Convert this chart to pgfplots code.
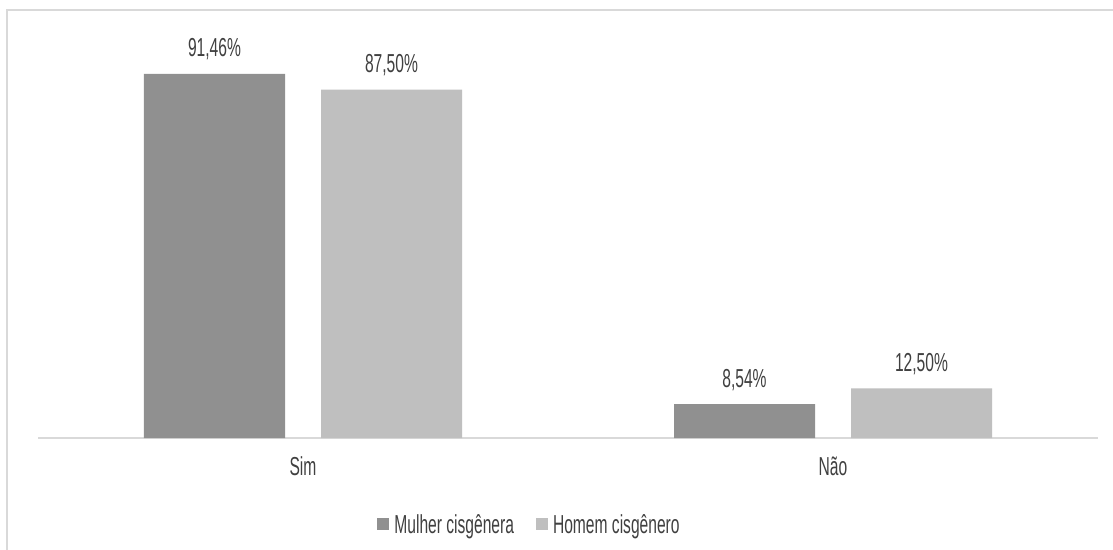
\documentclass[border=0pt]{standalone}
\usepackage{fontspec}
\setmainfont{Liberation Sans}[FakeStretch=0.6]
\usepackage{pgfplots}
\pgfplotsset{compat=1.18}
\definecolor{dark}{HTML}{909090}
\definecolor{light}{HTML}{BFBFBF}
\definecolor{txt}{HTML}{404040}
\definecolor{frame}{HTML}{D9D9D9}
\begin{document}
\fontsize{26bp}{30bp}\selectfont
\begin{tikzpicture}
\path[use as bounding box, fill=white] (0,0) rectangle (1113bp,-550bp);
\draw[frame, line width=1.5bp] (7bp,-550bp) -- (7bp,-10bp) -- (1113bp,-10bp);
\begin{axis}[
  at={(38bp,-438bp)}, anchor=south west,
  scale only axis, width=1060bp, height=408bp,
  xmin=-0.5, xmax=1.5, ymin=0, ymax=102.5,
  axis y line=none, axis x line*=bottom,
  x axis line style={frame, line width=1.5bp, -},
  xtick={0,1}, xticklabels={Sim,Não},
  major tick length=0,
  xticklabel style={anchor=base, yshift=-37bp, text=txt},
  ybar, bar width=141bp,
  point meta=explicit symbolic,
  nodes near coords,
  every node near coord/.append style={anchor=base, yshift=17bp, text=txt},
  legend columns=2,
  legend style={draw=none, fill=none, at={(0.4637,-0.216)}, anchor=center, text=txt,
    /tikz/every odd column/.append style={column sep=3bp},
    /tikz/every even column/.append style={column sep=20bp}},
  legend image code/.code={\fill[#1] (0bp,-4bp) rectangle (12bp,8bp);},
]
\addplot[fill=dark, draw=none, bar shift=-88.5bp] coordinates {(0,91.46) [91,46\%] (1,8.54) [8,54\%]};
\addplot[fill=light, draw=none, bar shift=88.5bp] coordinates {(0,87.50) [87,50\%] (1,12.50) [12,50\%]};
\legend{Mulher cisgênera, Homem cisgênero}
\end{axis}
\end{tikzpicture}
\end{document}
